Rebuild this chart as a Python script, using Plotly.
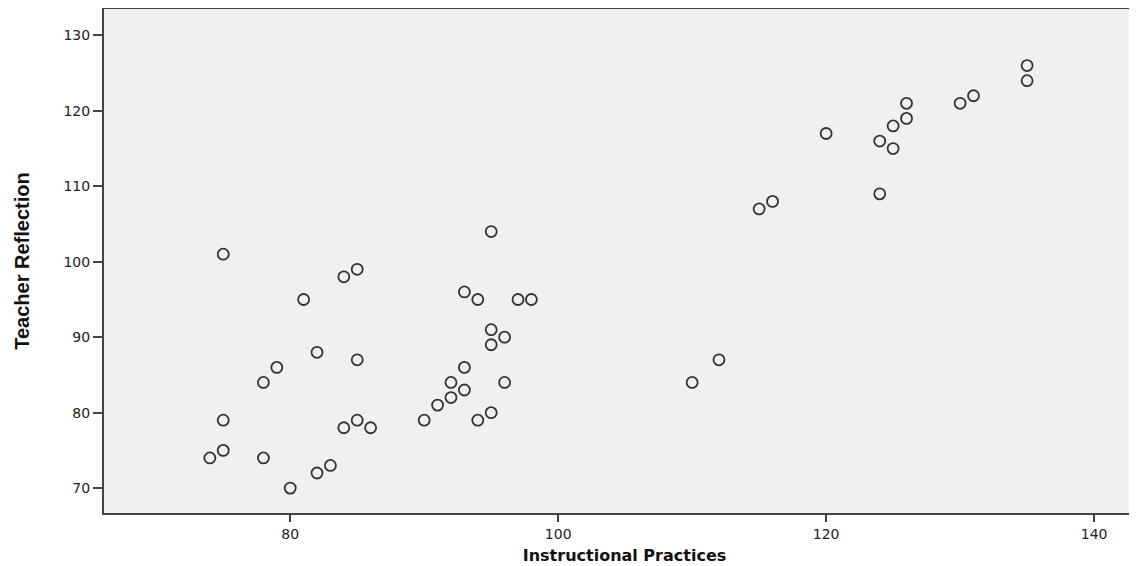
import plotly.graph_objects as go

# Instructional Practices (x) and Teacher Reflection (y)
instructional_practices = [
    95, 75, 84, 85, 81, 93, 94, 97, 98, 95,
    96, 95, 82, 85, 79, 78, 93, 92, 96, 93,
    92, 91, 75, 84, 85, 86, 90, 94, 95, 75,
    74, 78, 82, 83, 80,
    135, 135, 131, 130, 126, 126, 125, 120, 124, 125,
    124, 116, 115, 112, 110,
]
teacher_reflection = [
    104, 101, 98, 99, 95, 96, 95, 95, 95, 91,
    90, 89, 88, 87, 86, 84, 86, 84, 84, 83,
    82, 81, 79, 78, 79, 78, 79, 79, 80, 75,
    74, 74, 72, 73, 70,
    126, 124, 122, 121, 121, 119, 118, 117, 116, 115,
    109, 108, 107, 87, 84,
]

x_ticks = [80, 100, 120, 140]
y_ticks = [70, 80, 90, 100, 110, 120, 130]

fig = go.Figure()
fig.add_trace(go.Scatter(
    x=instructional_practices,
    y=teacher_reflection,
    mode="markers",
    marker=dict(symbol="circle-open", size=11, color="#333333",
                line=dict(width=1.8, color="#333333")),
    showlegend=False,
    hoverinfo="x+y",
))

axis_font = dict(family="DejaVu Sans", size=14, color="#222222")

# the page body adds an 8px offset; the plot runs past the right edge of the window
fig.update_layout(
    width=1137,
    height=558,
    margin=dict(l=96, r=0, t=1, b=53, autoexpand=False),
    paper_bgcolor="white",
    plot_bgcolor="#f0f0f0",
    xaxis=dict(
        range=[66.1, 143.8],
        tickvals=x_ticks,
        ticktext=[str(v) for v in x_ticks],
        showgrid=False, zeroline=False, automargin=False,
        showline=True, linecolor="#444444", linewidth=2, mirror=True,
        ticks="outside", ticklen=7, tickwidth=2, tickcolor="#444444",
        tickfont=axis_font,
        title=dict(text="Instructional Practices",
                   font=dict(family="DejaVu Sans", size=16, color="#111111", weight="bold"),
                   standoff=9),
    ),
    yaxis=dict(
        range=[66.7, 133.5],
        tickvals=y_ticks,
        ticktext=[str(v) for v in y_ticks],
        showgrid=False, zeroline=False, automargin=False,
        showline=True, linecolor="#444444", linewidth=2,
        ticks="outside", ticklen=9, tickwidth=2, tickcolor="#444444",
        tickfont=axis_font,
        title=dict(text="Teacher Reflection",
                   font=dict(family="Liberation Sans Narrow, Liberation Sans", size=20,
                             color="#111111", weight="bold"),
                   standoff=28),
    ),
)

fig.write_html("out.html")
